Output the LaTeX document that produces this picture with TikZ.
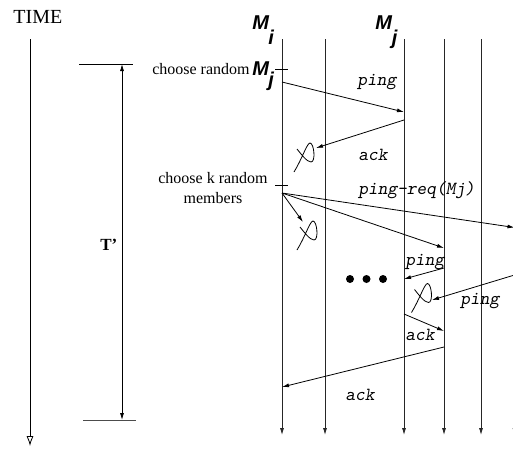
\documentclass[tikz,border=0pt]{standalone}
\usepackage{fontspec}
\setmainfont{Liberation Serif}
\newfontfamily\sansfnt{Liberation Sans}
\usetikzlibrary{arrows.meta}
\begin{document}
\begin{tikzpicture}[x=1pt,y=-1pt,
  line width=0.8pt,
  lifeline/.style={draw=black!85,-{Latex[length=7pt,width=4pt]}},
  msg/.style={-{Latex[length=7pt,width=4pt]}},
  msglbl/.style={inner sep=0pt,anchor=base west,font=\ttfamily\slshape\fontsize{18.5}{21}\selectfont},
  txt/.style={inner sep=0pt,font=\fontsize{16}{20}\selectfont},
  mlbl/.style={inner sep=0pt,anchor=base west,font=\sansfnt\bfseries\itshape\fontsize{20}{24}\selectfont},
  lost/.pic={\draw[line width=0.8pt] (-11,15) .. controls (-3,2) and (2,-14) .. (5,-14) .. controls (9,-14) and (11,5) .. (6,5) .. controls (2,5) and (-4,-3) .. (-8,-8);}
]
\useasboundingbox (0,0) rectangle (513,448);

% time axis
\node[inner sep=0pt,anchor=base west,font=\fontsize{20}{24}\selectfont] (time) at (13,23.3) {TIME};
\coordinate (timetop) at (30,39);
\coordinate (timebot) at (30,446);
\draw[-{Latex[open,length=10pt,width=7pt]}] (timetop) -- (timebot);

% T' interval
\coordinate (tl1) at (79,64);  \coordinate (tr1) at (133,64);
\coordinate (tl2) at (83,420); \coordinate (tr2) at (136,420);
\draw (tl1) -- (tr1);
\draw[draw=black!70,line width=1pt] (tl2) -- (tr2);
\coordinate (ttop) at (122,64); \coordinate (tbot) at (122,420);
\draw[{Latex[length=7pt,width=4pt]}-{Latex[length=7pt,width=4pt]}] (ttop) -- (tbot);
\node[inner sep=0pt,anchor=base west,font=\bfseries\fontsize{17}{20}\selectfont] (tprime) at (100,250) {T'};

% lifelines
\foreach \n/\x in {a/282,b/325,c/404,d/444,e/481,f/514.5}{
  \coordinate (\n top) at (\x,39);
  \coordinate (\n bot) at (\x,435);
  \draw[lifeline] (\n top) -- (\n bot);
}

% member labels
\node[mlbl] (Mi) at (252,29) {M};
\node[mlbl] (Mii) at (268,44) {i};
\node[mlbl] (Mj) at (375,29) {M};
\node[mlbl] (Mjj) at (391.5,44) {j};

% choose random Mj
\node[txt,anchor=base east] (ch1) at (250,74) {choose random};
\node[mlbl] (chM) at (252,75) {M};
\node[mlbl] (chj) at (268,86) {j};
\coordinate (tick1a) at (275,69); \coordinate (tick1b) at (288,69);
\draw (tick1a) -- (tick1b);

% choose k random members
\node[txt,align=center,anchor=north] (ch2) at (213,172) {choose k random\\members};
\coordinate (tick2a) at (275,185); \coordinate (tick2b) at (288,185);
\draw (tick2a) -- (tick2b);

% message end points
\coordinate (m1s) at (282,82);  \coordinate (m1e) at (404,112);
\coordinate (m2s) at (404,120); \coordinate (m2e) at (316,148);
\coordinate (m3s) at (282,193); \coordinate (m3e) at (303,222);
\coordinate (m4e) at (444,248);
\coordinate (m5e) at (514.5,227.5);
\coordinate (m6s) at (444,268); \coordinate (m6e) at (404,279);
\coordinate (m7s) at (514.5,275); \coordinate (m7e) at (432,300);
\coordinate (m8s) at (404,314); \coordinate (m8e) at (444,331);
\coordinate (m9s) at (444,347); \coordinate (m9e) at (282,387);

\draw[msg] (m1s) -- (m1e);
\draw[msg] (m2s) -- (m2e);
\draw[msg] (m3s) -- (m3e);
\draw[msg] (m3s) -- (m4e);
\draw[msg] (m3s) -- (m5e);
\draw[msg] (m6s) -- (m6e);
\draw[msg] (m7s) -- (m7e);
\draw[msg] (m8s) -- (m8e);
\draw[msg] (m9s) -- (m9e);

% lost messages
\pic at (305,157) {lost};
\pic at (308,235) {lost};
\pic at (422.5,297.5) {lost};

% message labels
\node[msglbl] (l1) at (357,85) {ping};
\node[msglbl] (l2) at (358,160) {ack};
\node[msglbl] (l3) at (358,194) {ping-req(Mj)};
\node[msglbl] (l4) at (405,265) {ping};
\node[msglbl] (l5) at (460,304) {ping};
\node[msglbl] (l6) at (405,340) {ack};
\node[msglbl] (l7) at (345,400) {ack};

% dots
\fill (350,279) circle[radius=4pt];
\fill (366.5,279) circle[radius=4pt];
\fill (383,279) circle[radius=4pt];
\end{tikzpicture}
\end{document}
